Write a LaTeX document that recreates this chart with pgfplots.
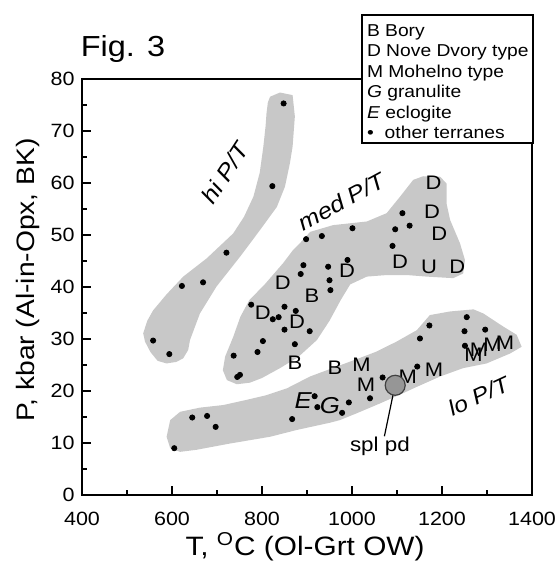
\documentclass[border=0pt]{standalone}
\usepackage{fontspec}
\setmainfont{Liberation Sans}[FakeStretch=1.12]
\usepackage{pgfplots}
\pgfplotsset{compat=1.18}
\definecolor{band}{RGB}{200,200,200}
\definecolor{spl}{RGB}{150,150,150}

\newcommand{\fs}[1]{\fontsize{#1}{#1}\selectfont}

\begin{document}
\begin{tikzpicture}
\useasboundingbox (-41pt,-36pt) rectangle (237pt,247.5pt);
\begin{axis}[
  scale only axis, width=225pt, height=208pt,
  xmin=400, xmax=1400, ymin=0, ymax=80,
  xtick={400,600,...,1400}, ytick={0,10,...,80},
  minor x tick num=1, minor y tick num=1,
  tick align=inside, xtick pos=bottom, ytick pos=left,
  major tick length=4.5pt, minor tick length=2.3pt,
  axis line style={line width=1pt},
  every tick/.append style={line width=0.9pt, black},
  tick label style={font=\fs{9.6}},
  /pgf/number format/assume math mode=true,
  /pgf/number format/1000 sep={},
  xticklabel style={anchor=base, yshift=-15.25pt, inner sep=0pt},
  yticklabel style={anchor=east, inner sep=0pt, xshift=-3.5pt},
  xlabel={T, \textsuperscript{O}C (Ol-Grt OW)},
  ylabel={P, kbar (Al-in-Opx, BK)},
  xlabel style={at={(axis description cs:0.4956,-0.1466)}, anchor=base, font=\fs{13.3}},
  ylabel style={at={(axis description cs:-0.12,0.517)}, anchor=center, font=\fs{12.6}},
  clip=false,
]
% grey fields
\addplot[fill=band, draw=none] coordinates {
  (818,76.6) (840,77.4) (868,76.9) (873,72.8) (868,67) (862,63.8) (851,59.3)
  (833,55.4) (796,51.0) (751,45.8) (699,40.1) (662,34.9) (640,29.8) (636,27.9)
  (625,26.3) (610,25.6) (588,25.3) (568,25.8) (552,27.5) (540,29.5) (536,31.1)
  (545,33.5) (558,35.5) (588,38.6) (625,42.0) (677,45.5) (736,50.3) (760,53.5)
  (781,57.4) (795,62) (803,67.0) (808,71) (810,73.4) (813,75.5)} -- cycle;
\addplot[fill=band, draw=none] coordinates {
  (884,48.4) (907,50.6) (958,51.9) (1033,52.6) (1077,54.2) (1107,57.4)
  (1136,60.6) (1158,61.3) (1196,61.2) (1210,59.9) (1210,56.1) (1218,52.9)
  (1240,48.4) (1251,45.2) (1247,42.6) (1225,41.7) (1166,42.0) (1122,42.3)
  (1077,42.3) (1033,42.0) (996,40.5) (975,37.5) (950,33.5) (922,29.8)
  (880,26.5) (840,24.4) (800,22.5) (773,21.6) (744,21.3) (722,22.1)
  (713,24.0) (718,26.6) (736,30.4) (752,34.3) (772,37.5) (806,40.5)
  (847,44.6) (868,47)} -- cycle;
\addplot[fill=band, draw=none] coordinates {
  (588,11.2) (596,14.4) (618,16.0) (662,16.8) (714,17.3) (766,18.3) (810,19.2)
  (855,20.5) (907,22.8) (966,24.7) (1025,26.6) (1055,27.6) (1099,29.5)
  (1144,31.7) (1173,34.6) (1218,35.3) (1270,35.7) (1292,34.9) (1336,32.4)
  (1366,30.8) (1377,28.5) (1351,27.2) (1299,25.3) (1247,24.4) (1196,22.8)
  (1144,20.8) (1114,19.6) (1062,17.6) (1010,15.7) (973,14.4) (951,13.9)
  (877,12.5) (818,11.2) (729,9.9) (655,8.7) (618,8.3) (596,9.0)} -- cycle;

% other terranes
\addplot[only marks, mark=*, mark size=1.3pt, black] coordinates {
  (848,75.3) (823,59.4) (721,46.6) (669,40.9) (622,40.2) (558,29.7) (594,27.1)
  (898,49.2) (933,49.8) (1001,51.3) (1112,54.2) (1096,51.1) (1128,51.8)
  (1090,47.9) (990,45.2) (947,43.9) (950,41.3) (952,39.4) (892,44.2) (886,42.5)
  (776,36.6) (850,36.2) (875,35.4) (824,33.8) (837,34.2) (850,31.8) (906,31.5)
  (802,29.6) (790,27.5) (873,29.0) (737,26.8) (751,23.1) (745,22.7)
  (645,14.9) (678,15.2) (697,13.1) (605,9.0) (867,14.6) (917,19.0) (923,16.9)
  (978,15.8) (993,17.8) (1040,18.6) (1068,22.6) (1145,24.7) (1151,30.1)
  (1172,32.6) (1255,34.2) (1250,31.5) (1296,31.8) (1251,28.7)};

% letter symbols
\pgfplotsset{letter/.style={only marks, mark=text, text mark as node=true,
  text mark={#1}, text mark style={font=\fs{9.8}, inner sep=0pt}, black}}
\addplot[letter=B] coordinates {(873,25.5) (911,38.4) (962,24.5)};
\addplot[letter=D] coordinates {(1181,60.1) (1178,54.5) (1194,50.2) (1107,44.8)
  (1234,43.8) (989,43.1) (846,40.8) (802,35.1) (878,33.3)};
\addplot[letter=U] coordinates {(1171,43.8)};
\addplot[letter=M] coordinates {(1021,25.1) (1031,21.2) (1124,22.8) (1182,24.0)
  (1270,26.9) (1282,27.9) (1312,28.8) (1340,29.2)};
\addplot[only marks, mark=text, text mark as node=true, text mark={\textit{E}},
  text mark style={font=\fs{11.5}, inner sep=0pt}, black] coordinates {(892,18.1)};
\addplot[only marks, mark=text, text mark as node=true, text mark={\textit{G}},
  text mark style={font=\fs{11.5}, inner sep=0pt}, black] coordinates {(951,17.1)};

% spl pd
\addplot[black, line width=0.6pt] coordinates {(1072,11.3) (1091,19.2)};
\addplot[only marks, mark=*, mark size=5pt,
  mark options={fill=spl, draw=black!75, line width=0.6pt}] coordinates {(1096,21.1)};
\node[font=\fs{10}] at (axis cs:1062,9.3) {spl pd};

\node[rotate=57, font=\fs{11.5}\itshape] at (axis cs:718,61.9) {hi P/T};
\node[rotate=28.5, font=\fs{11.3}\itshape] at (axis cs:977,56.4) {med P/T};
\node[rotate=25, font=\fs{11}\itshape] at (axis cs:1281,19.0) {lo P/T};
\end{axis}

% legend box
\draw[fill=white, line width=0.7pt] (140pt,176pt) rectangle (225.5pt,240pt);
\begin{scope}[every node/.style={anchor=base west, inner sep=0pt, font=\fs{8.6}}]
\node at (142.3pt,229.25pt) {B Bory};
\node at (142.3pt,219pt) {D Nove Dvory type};
\node at (142.3pt,208.75pt) {M Mohelno type};
\node at (142.3pt,198.5pt) {\textit{G} granulite};
\node at (142.3pt,188.25pt) {\textit{E} eclogite};
\node at (142.3pt,178pt) {•\hspace{5.5pt}other terranes};
\end{scope}

\node[anchor=base, font=\fs{14.5}] at (20.5pt,219.2pt) {Fig. 3};
\end{tikzpicture}
\end{document}
